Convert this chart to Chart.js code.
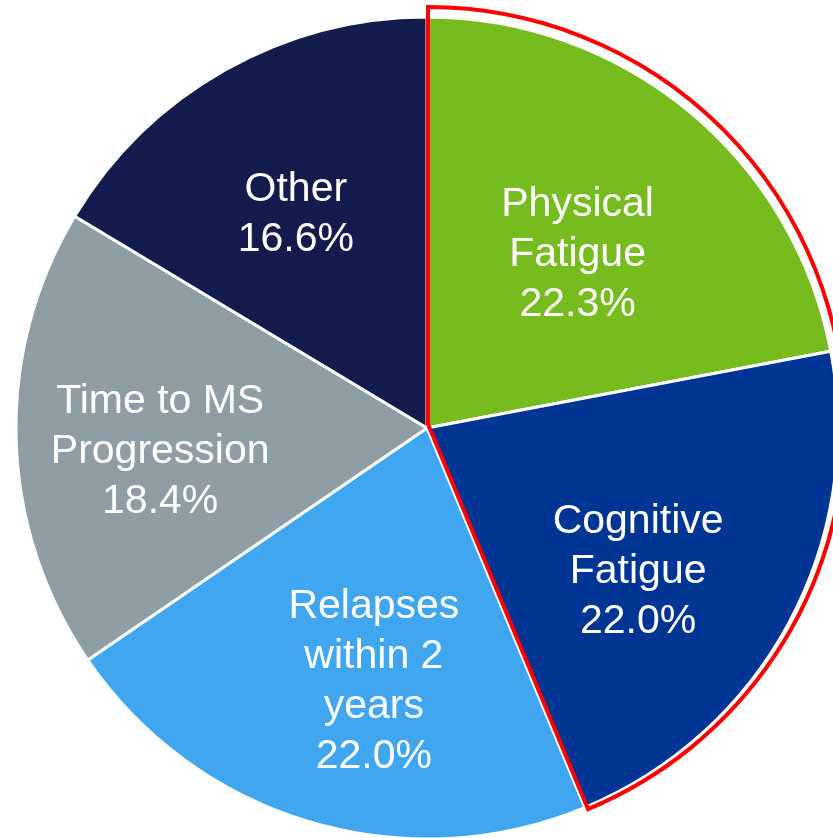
<!DOCTYPE html>
<html>
<head>
<meta charset="utf-8">
<script src="https://cdn.jsdelivr.net/npm/chart.js@4.4.0/dist/chart.umd.min.js"></script>
<style>
  html, body { margin: 0; padding: 0; background: #fff; overflow: hidden; }
  #wrap { width: 854px; height: 856px; }
</style>
</head>
<body>
<div id="wrap"><canvas id="graf_Pie" width="854" height="856"></canvas></div>
<script>
const categories = [['Physical', 'Fatigue'], ['Cognitive', 'Fatigue'], ['Relapses', 'within 2', 'years'], ['Time to MS', 'Progression'], ['Other']]
const values = [22.3, 22.0, 22.0, 18.4, 16.6]
const colors = ['#77BC1F', '#003594', '#41A6F0', '#8F9DA5', '#141B4D']

// where each label sits: fraction of the radius and turn (degrees) off the slice middle
const labelRadius = [0.565, 0.617, 0.623, 0.651, 0.616]
const labelTurn = [0.8, 5.3, -4.55, -2.6, -1.7]

const sliceLabels = {
  id: 'sliceLabels',
  afterDatasetsDraw(chart) {
    const ctx = chart.ctx
    const arcs = chart.getDatasetMeta(0).data

    // red outline round the two fatigue slices
    const first = arcs[0]
    const second = arcs[1]
    const ox = first.x + 1
    const oy = first.y - 4
    ctx.save()
    ctx.strokeStyle = '#ff0000'
    ctx.lineWidth = 4
    ctx.lineJoin = 'miter'
    ctx.beginPath()
    ctx.moveTo(ox, oy)
    ctx.arc(ox, oy, first.outerRadius + 6, first.startAngle, second.endAngle)
    ctx.closePath()
    ctx.stroke()

    ctx.fillStyle = '#ffffff'
    ctx.font = '41px "Liberation Sans", Arial, sans-serif'
    ctx.textAlign = 'center'
    ctx.textBaseline = 'alphabetic'
    arcs.forEach((arc, i) => {
      const mid = (arc.startAngle + arc.endAngle) / 2 + labelTurn[i] * Math.PI / 180
      const r = arc.outerRadius * labelRadius[i]
      const cx = arc.x + Math.cos(mid) * r
      const cy = arc.y + Math.sin(mid) * r
      const lines = [...categories[i], values[i].toFixed(1) + '%']
      lines.forEach((t, j) => {
        ctx.fillText(t, cx, cy + (j - (lines.length - 1) / 2) * 50 + 15)
      })
    })
    ctx.restore()
  }
}

new Chart(document.getElementById('graf_Pie'), {
  type: 'pie',
  data: {
    labels: categories.map(c => c.join(' ')),
    datasets: [{
      data: values,
      backgroundColor: colors,
      borderColor: '#ffffff',
      borderWidth: 3
    }]
  },
  options: {
    responsive: false,
    animation: false,
    radius: 411,
    layout: { padding: 0 },
    plugins: {
      legend: { display: false },
      tooltip: { enabled: false }
    }
  },
  plugins: [sliceLabels]
})
</script>
</body>
</html>
